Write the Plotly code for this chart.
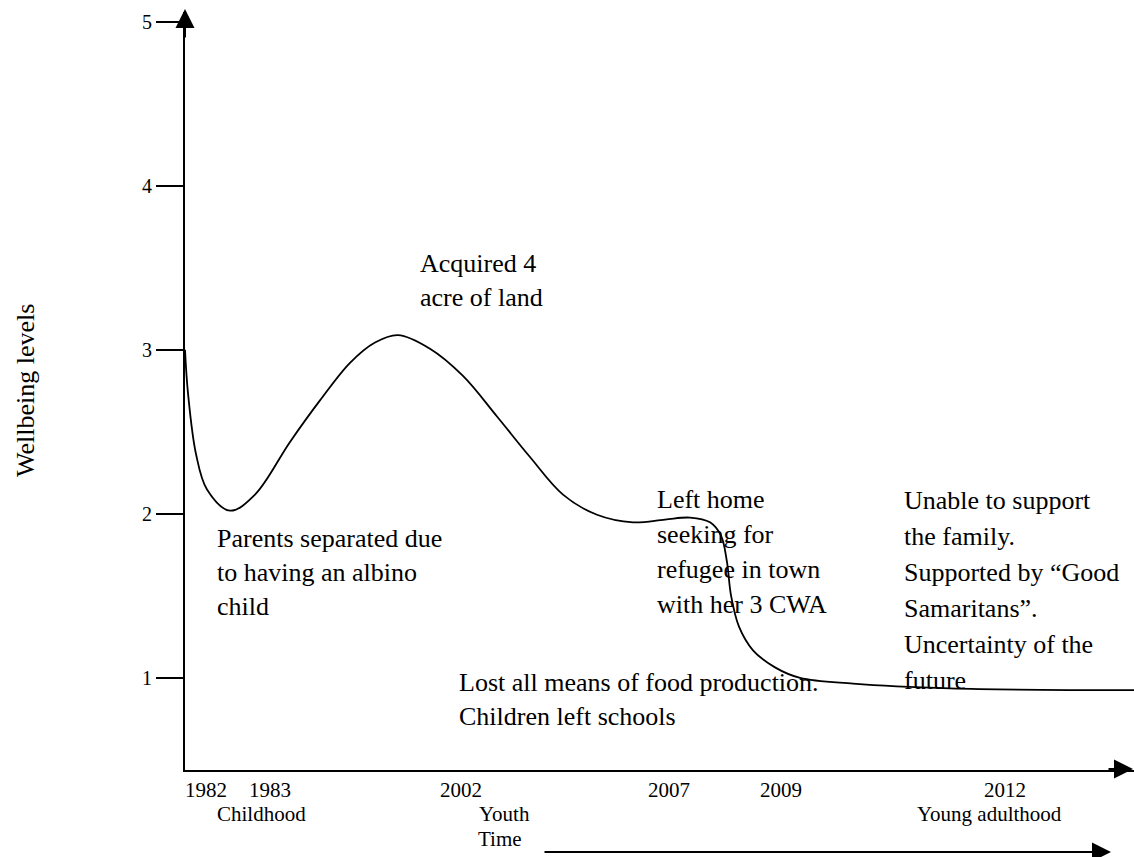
import plotly.graph_objects as go

# ---------------- data ----------------
# position along the (non-uniform) time axis and wellbeing level
time_pos = [0, 3, 11, 22, 45, 70, 105, 135, 165, 190, 213, 245, 278, 312, 345, 378,
            412, 448, 480, 505, 525, 536, 542, 546, 554, 568, 590, 615, 668, 765, 949]
wellbeing = [3.00, 2.735, 2.364, 2.148, 2.019, 2.117, 2.438, 2.691, 2.920, 3.044,
             3.089, 3.006, 2.840, 2.593, 2.346, 2.117, 1.994, 1.948, 1.965, 1.977,
             1.948, 1.867, 1.705, 1.503, 1.312, 1.168, 1.064, 1.000, 0.965, 0.936,
             0.925]

year_labels = ["1982", "1983", "2002", "2007", "2009", "2012"]
year_pos = [21, 85, 276, 484, 596, 820]
level_ticks = [1, 2, 3, 4, 5]
stage_labels = ["Childhood", "Youth", "Young adulthood"]
stage_pos = [76, 319, 804]

event_acquired = ["Acquired 4", "acre of land"]
event_parents = ["Parents separated due", "to having an albino", "child"]
event_lefthome = ["Left home", "seeking for", "refugee in town", "with her 3 CWA"]
event_unable = ["Unable to support", "the family.", "Supported by \u201cGood",
                "Samaritans\u201d.", "Uncertainty of the", "future"]
event_lost = ["Lost all means of food production.", "Children left schools"]

# ---------------- layout helpers ----------------
W, H = 1134, 857
ML, MR, MT, MB = 185, 0, 12, 87
PW, PH = W - ML - MR, H - MT - MB
FONT = "Liberation Serif, Times New Roman, serif"
Y_RANGE = [0.4387, 5.0579]


def py(p):
    return (H - MB - p) / PH


def px(p):
    return (p - ML) / PW


fig = go.Figure()
fig.add_trace(go.Scatter(
    x=time_pos, y=wellbeing, mode="lines",
    line=dict(color="black", width=1.8, shape="spline", smoothing=1.0),
    hoverinfo="skip", showlegend=False,
))

annotations = []


def block(lines, left, first_mid, pitch, size=26):
    for i, t in enumerate(lines):
        annotations.append(dict(
            text=t, xref="paper", yref="paper", x=px(left), y=py(first_mid + i * pitch),
            xanchor="left", yanchor="middle", showarrow=False,
            font=dict(family=FONT, size=size, color="black"),
        ))


block(event_acquired, 418, 263, 34.5)
block(event_parents, 215, 538, 34)
block(event_lefthome, 655, 499, 35)
block(event_unable, 902, 501, 35.8)
block(event_lost, 457, 682, 34.5)

for lab, pos in zip(stage_labels, stage_pos):
    annotations.append(dict(
        text=lab, xref="x", yref="paper", x=pos, y=py(814),
        xanchor="center", yanchor="middle", showarrow=False,
        font=dict(family=FONT, size=21, color="black"),
    ))
annotations.append(dict(
    text="Time", xref="paper", yref="paper", x=px(500), y=py(839),
    xanchor="center", yanchor="middle", showarrow=False,
    font=dict(family=FONT, size=21, color="black"),
))
annotations.append(dict(
    text="Wellbeing levels", xref="paper", yref="paper", x=px(25), y=py(391),
    xanchor="center", yanchor="middle", textangle=-90, showarrow=False,
    font=dict(family=FONT, size=26, color="black"),
))

# arrows: y axis top, x axis right, time arrow under the axis
arrow_style = dict(showarrow=True, arrowhead=2, arrowsize=1.9, arrowwidth=2,
                   arrowcolor="black", text="", axref="pixel", ayref="pixel")
annotations.append(dict(xref="paper", yref="paper", x=px(185), y=py(9), ax=0, ay=30, **arrow_style))
annotations.append(dict(xref="paper", yref="paper", x=px(1137), y=py(769), ax=-30, ay=0, **arrow_style))
annotations.append(dict(xref="paper", yref="paper", x=px(1111), y=py(852), ax=-568, ay=0, **arrow_style))

fig.update_layout(
    width=W, height=H,
    margin=dict(l=ML, r=MR, t=MT, b=MB, pad=0),
    paper_bgcolor="white", plot_bgcolor="white",
    showlegend=False,
    font=dict(family=FONT, color="black"),
    xaxis=dict(range=[0, PW], showline=True, linecolor="black", linewidth=2,
               tickvals=year_pos, ticktext=year_labels, ticks="", showgrid=False,
               zeroline=False, tickfont=dict(family=FONT, size=21, color="black"),
               fixedrange=True),
    yaxis=dict(range=Y_RANGE, showline=True, linecolor="black", linewidth=2,
               tickvals=level_ticks, ticks="outside", ticklen=27, tickwidth=2,
               tickcolor="black", showgrid=False, zeroline=False,
               tickfont=dict(family=FONT, size=20, color="black"), fixedrange=True),
    annotations=annotations,
)

fig.write_html(
    "out.html",
    config={"displayModeBar": False},
    post_script="document.body.style.margin='0';document.body.style.overflow='hidden';",
)
